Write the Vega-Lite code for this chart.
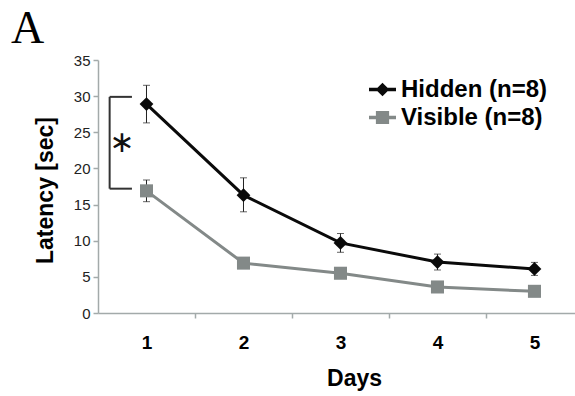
{
  "$schema": "https://vega.github.io/schema/vega-lite/v6.json",
  "autosize": "none",
  "padding": {"left": 98, "top": 60, "right": 0, "bottom": 83},
  "width": 477,
  "height": 253,
  "background": "white",
  "config": {
    "view": {"stroke": null},
    "font": "Liberation Sans",
    "axisX": {"grid": false, "labelOverlap": false, "domainColor": "#a3aaaa", "domainWidth": 1.5, "tickColor": "#a3aaaa", "tickWidth": 1.5, "tickSize": 5, "tickOffset": 48.5, "labelOffset": -48.5, "labelFontSize": 19, "labelFontWeight": "bold", "labelColor": "#000", "labelBaseline": "alphabetic", "labelPadding": 30, "titleFontSize": 23, "titleFontWeight": "bold", "titleColor": "#000"},
    "axisY": {"grid": false, "labelOverlap": false, "domainColor": "#a3aaaa", "domainWidth": 1.5, "tickColor": "#a3aaaa", "tickWidth": 1.5, "tickSize": 5, "labelFontSize": 15, "labelColor": "#222", "labelPadding": 3, "titleFontSize": 23, "titleFontWeight": "bold", "titleColor": "#000"}
  },
  "title": {"text": "A", "font": "Liberation Serif", "fontSize": 46, "fontWeight": "normal", "color": "#000", "anchor": "start", "frame": "group", "orient": "top", "baseline": "alphabetic", "dx": -87, "dy": 44, "offset": 8},
  "datasets": {
    "latency": [
      {"day": 1, "series": "Hidden (n=8)", "mean": 28.9, "lo": 26.3, "hi": 31.5},
      {"day": 2, "series": "Hidden (n=8)", "mean": 16.3, "lo": 14.0, "hi": 18.7},
      {"day": 3, "series": "Hidden (n=8)", "mean": 9.7, "lo": 8.4, "hi": 11.0},
      {"day": 4, "series": "Hidden (n=8)", "mean": 7.05, "lo": 5.95, "hi": 8.15},
      {"day": 5, "series": "Hidden (n=8)", "mean": 6.1, "lo": 5.2, "hi": 7.0},
      {"day": 1, "series": "Visible (n=8)", "mean": 16.9, "lo": 15.4, "hi": 18.4},
      {"day": 2, "series": "Visible (n=8)", "mean": 6.9, "lo": 6.3, "hi": 7.5},
      {"day": 3, "series": "Visible (n=8)", "mean": 5.5, "lo": 5.0, "hi": 6.0},
      {"day": 4, "series": "Visible (n=8)", "mean": 3.6, "lo": 3.1, "hi": 4.1},
      {"day": 5, "series": "Visible (n=8)", "mean": 3.0, "lo": 2.5, "hi": 3.5}
    ],
    "bracket": [
      {"x": 0.62, "x2": 0.62, "y": 17.2, "y2": 29.9},
      {"x": 0.62, "x2": 0.85, "y": 29.9, "y2": 29.9},
      {"x": 0.62, "x2": 0.85, "y": 17.2, "y2": 17.2}
    ],
    "star": [{"x": 0.745, "y": 23.5, "label": "∗"}]
  },
  "layer": [
    {
      "data": {"name": "latency"},
      "mark": {"type": "line", "strokeWidth": 3},
      "encoding": {
        "x": {"field": "day", "type": "quantitative", "scale": {"domain": [0.5, 5.418], "nice": false, "zero": false},
          "axis": {"values": [1, 2, 3, 4, 5], "format": "d", "title": "Days", "titleX": 256, "titleY": 72, "titleBaseline": "alphabetic"}},
        "y": {"field": "mean", "type": "quantitative", "scale": {"domain": [0, 35], "nice": false},
          "axis": {"values": [0, 5, 10, 15, 20, 25, 30, 35], "tickCount": 8, "format": "d", "title": "Latency [sec]", "titleX": -46, "titleY": 130, "titleAngle": -90, "titleBaseline": "alphabetic"}},
        "color": {"field": "series", "type": "nominal", "scale": {"domain": ["Hidden (n=8)", "Visible (n=8)"], "range": ["#0a0a0a", "#838988"]}}
      }
    },
    {
      "data": {"name": "latency"},
      "mark": {"type": "errorbar", "ticks": {"size": 7, "color": "#222", "strokeWidth": 1}, "rule": {"color": "#222", "strokeWidth": 1}},
      "encoding": {
        "x": {"field": "day", "type": "quantitative", "axis": {"title": "Days"}},
        "y": {"field": "lo", "type": "quantitative", "axis": {"title": "Latency [sec]"}},
        "y2": {"field": "hi"}
      }
    },
    {
      "data": {"name": "latency"},
      "transform": [{"filter": "datum.series === 'Hidden (n=8)'"}],
      "mark": {"type": "point", "shape": "diamond", "filled": true, "size": 190, "opacity": 1, "color": "#0a0a0a"},
      "encoding": {
        "x": {"field": "day", "type": "quantitative"},
        "y": {"field": "mean", "type": "quantitative"}
      }
    },
    {
      "data": {"name": "latency"},
      "transform": [{"filter": "datum.series === 'Visible (n=8)'"}],
      "mark": {"type": "point", "shape": "square", "filled": true, "size": 170, "opacity": 1, "color": "#838988"},
      "encoding": {
        "x": {"field": "day", "type": "quantitative"},
        "y": {"field": "mean", "type": "quantitative"}
      }
    },
    {
      "data": {"name": "latency"},
      "mark": {"type": "point", "filled": true, "opacity": 0},
      "encoding": {
        "x": {"field": "day", "type": "quantitative"},
        "y": {"field": "mean", "type": "quantitative"},
        "color": {"field": "series", "type": "nominal", "legend": {"title": null, "orient": "none", "legendX": 269, "legendY": 14, "padding": 0, "rowPadding": 0, "labelFontSize": 24, "labelFontWeight": "bold", "labelColor": "#000", "labelFont": "Liberation Sans", "labelOffset": 3, "symbolSize": 729, "symbolOpacity": 1, "symbolStrokeWidth": 3, "labelLimit": 300,
          "encode": {"symbols": {"update": {"stroke": {"scale": "color", "field": "value"}, "strokeWidth": {"value": 3.5}, "opacity": {"value": 1}}}}}},
        "shape": {"field": "series", "type": "nominal", "scale": {"domain": ["Hidden (n=8)", "Visible (n=8)"], "range": ["M-1,0H1M0,-0.32L0.32,0L0,0.32L-0.32,0Z", "M-1,0H1M-0.36,-0.36H0.36V0.36H-0.36Z"]}}
      }
    },
    {
      "data": {"name": "bracket"},
      "mark": {"type": "rule", "color": "#333", "strokeWidth": 2},
      "encoding": {
        "x": {"field": "x", "type": "quantitative"},
        "x2": {"field": "x2"},
        "y": {"field": "y", "type": "quantitative"},
        "y2": {"field": "y2"}
      }
    },
    {
      "data": {"name": "star"},
      "mark": {"type": "text", "font": "DejaVu Sans", "fontSize": 30, "color": "#111", "baseline": "middle", "align": "center"},
      "encoding": {
        "x": {"field": "x", "type": "quantitative"},
        "y": {"field": "y", "type": "quantitative"},
        "text": {"field": "label"}
      }
    }
  ]
}
